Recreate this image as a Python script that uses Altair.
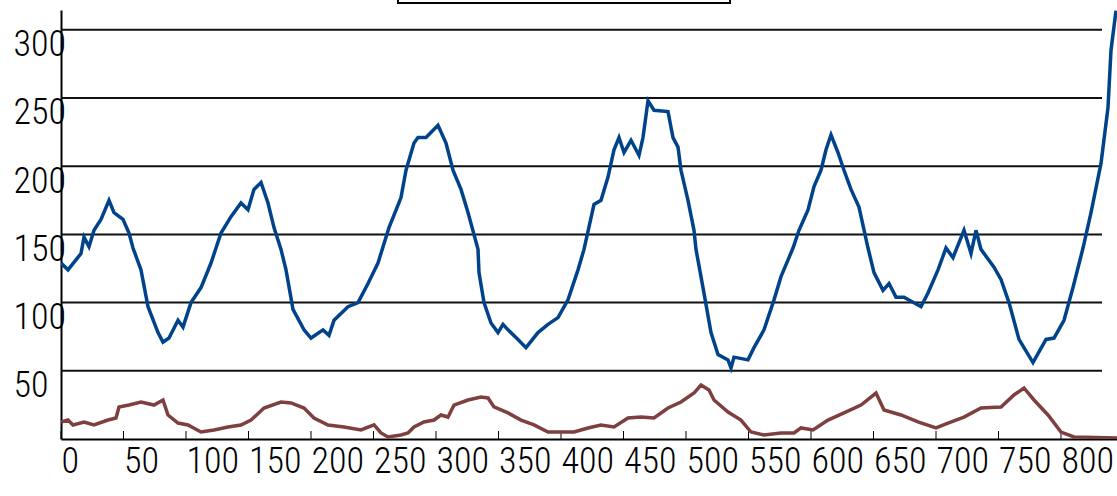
import altair as alt
import pandas as pd

# ---- data ----
blue_x = [0, 5.6, 16, 18.4, 22.4, 26.4, 32, 38.4, 42.4, 49.6, 54.4, 57.6, 64, 69.6, 77.6, 81.6, 86.4,
          93.6, 97.6, 104, 112, 120, 128, 136, 144, 149.6, 154.4, 160, 165.6, 170.4, 176, 180, 185.6,
          194.4, 200, 209.6, 214.4, 218.4, 229.6, 237.6, 245.6, 253.6, 262.4, 272, 276, 282.4, 285.6,
          292, 301.6, 308, 313.6, 320, 325.6, 333.6, 334.4, 338.4, 344, 349.6, 353.6, 357.6, 365.6,
          372, 381.6, 389.6, 397.6, 405.6, 413.6, 418.4, 426.4, 432, 437.6, 442.4, 446.4, 450.4, 456,
          462.4, 465.6, 469.6, 474.4, 485.6, 489.6, 493.6, 496, 501.6, 506.4, 508, 513.6, 520, 525.6,
          533.6, 536, 538.4, 549.6, 554.4, 562.4, 570.4, 576, 585.6, 590.4, 597.6, 602.4, 608, 612,
          616, 621.6, 626.4, 632, 638.4, 645.6, 650.4, 657.6, 662.4, 668, 674.4, 688, 693.6, 701.6,
          708, 713.6, 722.4, 728, 732, 736, 746.4, 752, 758.4, 766.4, 777.6, 788, 794.4, 802.4, 809.6,
          817.6, 824, 832, 837.6, 840, 844]
blue_y = [129, 124, 136, 148, 141, 153, 161, 175, 166, 161, 151, 140, 124, 97, 78, 71, 74,
          87, 82, 100, 111, 129, 151, 163, 173, 168, 183, 188, 173, 155, 139, 124, 95,
          80, 74, 80, 76, 87, 97, 100, 114, 129, 155, 177, 197, 217, 221,
          221, 230, 217, 197, 183, 166, 139, 122, 100, 85, 78, 84, 80, 73,
          67, 78, 84, 89, 102, 124, 139, 172, 175, 192, 212, 221, 210, 219,
          208, 221, 248, 241, 240, 221, 214, 197, 175, 153, 139, 111, 78, 62,
          58, 52, 60, 58, 67, 80, 102, 119, 140, 153, 168, 185, 197, 212,
          223, 210, 197, 183, 170, 140, 122, 109, 114, 104, 104, 97, 107, 124,
          140, 133, 153, 136, 153, 139, 126, 117, 100, 73, 56, 73, 74, 87, 111,
          140, 166, 202, 243, 285, 314]

red_x = [0, 5.6, 9.6, 18.4, 26.4, 37.6, 44, 46.4, 54.4, 64, 74.4, 81.6, 85.6, 93.6, 101.6, 112,
         122.4, 133.6, 144, 152, 162.4, 176, 184, 194.4, 202.4, 213.6, 226.4, 240, 250.4, 256,
         261.6, 272, 277.6, 282.4, 290.4, 298.4, 304, 309.6, 314.4, 325.6, 336, 341.6, 346.4,
         357.6, 368, 378.4, 389.6, 400, 410.4, 421.6, 432, 442.4, 453.6, 464, 474.4, 485.6, 496,
         506.4, 512, 518.4, 522.4, 533.6, 544, 552, 562.4, 576, 586.4, 592, 601.6, 613.6, 626.4,
         640, 652, 658.4, 672, 685.6, 700, 709.6, 722.4, 736, 752, 762.4, 770.4, 778.4, 789.6,
         800, 810.4, 845]
red_y = [12.5, 13.9, 10.3, 12.5, 10.3, 13.9, 15.4, 23.5, 24.9, 27.1, 24.9, 28.6, 17.6, 11.7, 10.3, 5.1,
         6.6, 8.8, 10.3, 13.9, 22.7, 27.1, 26.4, 22.7, 15.4, 10.3, 8.8, 6.6, 10.3, 4.4,
         1.5, 2.9, 4.4, 8.8, 12.5, 13.9, 17.6, 16.1, 24.9, 28.6, 30.8, 30.1, 23.5,
         19.1, 13.9, 10.3, 5.1, 5.1, 5.1, 8.1, 10.3, 8.8, 15.4, 16.1, 15.4, 22.7, 27.1,
         33.7, 39.6, 35.9, 28.6, 19.8, 13.9, 5.1, 2.9, 4.4, 4.4, 8.1, 6.6, 13.9, 19.1,
         24.9, 33.7, 21.3, 17.6, 12.5, 8.1, 11.7, 16.1, 22.7, 23.5, 32.3, 37.4, 28.6, 17.6,
         5.1, 1.5, 0.7]

x_ticks = [0, 50, 100, 150, 200, 250, 300, 350, 400, 450, 500, 550, 600, 650, 700, 750, 800]
y_grid = [50, 100, 150, 200, 250, 300]
x_max = 844.8
y_max = 314.5

FONT = "Roboto Condensed, DejaVu Sans Condensed, sans-serif"

blue_df = pd.DataFrame({"x": blue_x, "y": blue_y})
red_df = pd.DataFrame({"x": red_x, "y": red_y})
grid_df = pd.DataFrame({"y": y_grid})
tick_df = pd.DataFrame({"x": x_ticks})
box_df = pd.DataFrame({"k": [1]})

xscale = alt.Scale(domain=[0, x_max], nice=False, zero=False)
yscale = alt.Scale(domain=[0, y_max], nice=False, zero=False)

x_axis = alt.Axis(values=x_ticks, title=None, grid=False, ticks=False, tickSize=0,
                  labelAlign="left", labelBaseline="top", labelPadding=5,
                  labelFont=FONT, labelFontSize=36, labelFontWeight=300, labelColor="#000",
                  domainColor="#000", domainWidth=2, labelFlush=False, labelOverlap=False)
y_axis = alt.Axis(values=y_grid, title=None, grid=False, ticks=False, tickSize=0,
                  labelAlign="left", labelBaseline="top", labelPadding=48, labelOffset=-2,
                  labelFont=FONT, labelFontSize=36, labelFontWeight=300, labelColor="#000",
                  domainColor="#000", domainWidth=2, labelFlush=False, labelOverlap=False)

grid = alt.Chart(grid_df).mark_rule(color="#111", strokeWidth=2).encode(
    y=alt.Y("y:Q", scale=yscale, axis=y_axis),
    x=alt.value(0), x2=alt.value(1041))

ticks = alt.Chart(tick_df).mark_rule(color="#000", strokeWidth=1).encode(
    x=alt.X("x:Q", scale=xscale, axis=x_axis),
    y=alt.value(429), y2=alt.value(421))

red = alt.Chart(red_df).mark_line(color="#7E3F3F", strokeWidth=3.5, clip=True).encode(
    x=alt.X("x:Q", scale=xscale, axis=x_axis),
    y=alt.Y("y:Q", scale=yscale, axis=y_axis))

blue = alt.Chart(blue_df).mark_line(color="#00438A", strokeWidth=3.5, clip=True).encode(
    x=alt.X("x:Q", scale=xscale, axis=x_axis),
    y=alt.Y("y:Q", scale=yscale, axis=y_axis))

box = alt.Chart(box_df).mark_rect(fill="white", stroke="#000", strokeWidth=2).encode(
    x=alt.value(337), x2=alt.value(669), y=alt.value(-30), y2=alt.value(-7))

chart = alt.layer(grid, ticks, red, blue, box).properties(
    width=1056, height=429,
    autosize=alt.AutoSizeParams(type="none"),
    padding={"left": 61, "top": 10, "right": 0, "bottom": 57},
    background="white",
).configure_view(stroke=None)

chart.save("out.html", embed_options={"renderer": "svg", "actions": False})
